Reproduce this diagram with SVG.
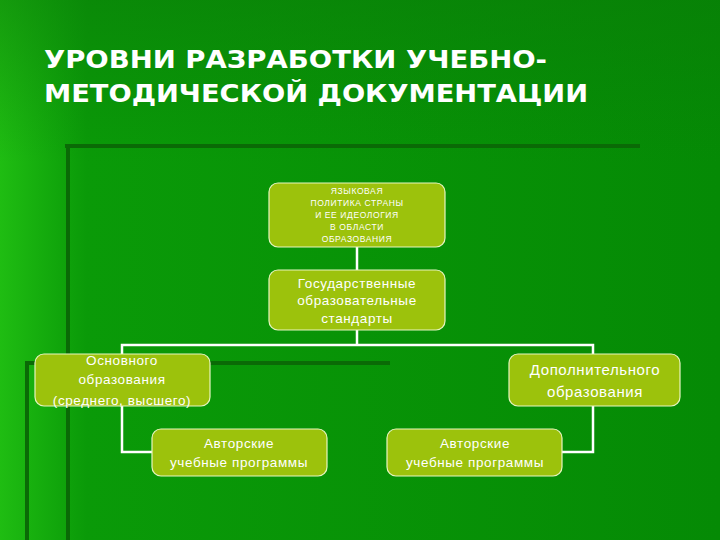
<svg xmlns="http://www.w3.org/2000/svg" width="720" height="540" viewBox="0 0 720 540">
<defs>
<linearGradient id="bg" x1="0" y1="0" x2="1" y2="0">
<stop offset="0" stop-color="#1fbd12"/><stop offset="0.12" stop-color="#0a9a08"/><stop offset="1" stop-color="#058a05"/>
</linearGradient>
<linearGradient id="bgv" x1="0" y1="0" x2="0" y2="1">
<stop offset="0" stop-color="#0a7a08" stop-opacity="0.5"/><stop offset="0.3" stop-color="#0a7a08" stop-opacity="0"/>
</linearGradient>
</defs>
<style>
.n{fill:#9cc20c;stroke:#e8f5c0;stroke-width:1.2}
.t{font-family:"Liberation Sans",Arial,sans-serif;fill:#fff;text-anchor:middle;letter-spacing:0.6px}
.c{fill:none;stroke:#fff;stroke-width:2.5}
.d{stroke:#0a6a06;stroke-width:4}
.h{font-family:"DejaVu Sans","Liberation Sans",sans-serif;font-weight:bold;font-size:25px;fill:#fff}
</style>
<rect width="720" height="540" fill="url(#bg)"/>
<rect width="720" height="540" fill="url(#bgv)"/>
<line class="d" x1="65" y1="146" x2="640" y2="146"/>
<line class="d" x1="68" y1="146" x2="68" y2="540"/>
<line class="d" x1="25" y1="363" x2="390" y2="363"/>
<line class="d" x1="27" y1="363" x2="27" y2="540"/>
<text class="h" x="44" y="68" textLength="503" lengthAdjust="spacingAndGlyphs">УРОВНИ РАЗРАБОТКИ УЧЕБНО-</text>
<text class="h" x="44" y="102" textLength="544" lengthAdjust="spacingAndGlyphs">МЕТОДИЧЕСКОЙ ДОКУМЕНТАЦИИ</text>
<g id="connectors">
<path class="c" d="M357 247V270M357 330V345M122 354V345H593V354M122 406V452H152M593 406V452H562"/>
</g>
<g id="n1"><rect class="n" x="269" y="183" width="176" height="64" rx="9"/>
<text class="t" font-size="8.5"><tspan x="357" y="194">ЯЗЫКОВАЯ</tspan><tspan x="357" y="206">ПОЛИТИКА СТРАНЫ</tspan><tspan x="357" y="218">И ЕЕ ИДЕОЛОГИЯ</tspan><tspan x="357" y="230">В ОБЛАСТИ</tspan><tspan x="357" y="242">ОБРАЗОВАНИЯ</tspan></text></g>
<g id="n2"><rect class="n" x="269" y="270" width="176" height="60" rx="9"/>
<text class="t" font-size="13.5"><tspan x="357" y="288">Государственные</tspan><tspan x="357" y="305">образовательные</tspan><tspan x="357" y="323">стандарты</tspan></text></g>
<g id="n3"><rect class="n" x="35" y="354" width="175" height="52" rx="9"/>
<text class="t" font-size="13.5"><tspan x="122" y="365">Основного</tspan><tspan x="122" y="384">образования</tspan><tspan x="122" y="405">(среднего, высшего)</tspan></text></g>
<g id="n4"><rect class="n" x="509" y="354" width="171" height="52" rx="9"/>
<text class="t" font-size="15"><tspan x="595" y="375">Дополнительного</tspan><tspan x="595" y="397">образования</tspan></text></g>
<g id="n5"><rect class="n" x="152" y="429" width="175" height="47" rx="9"/>
<text class="t" font-size="13.5"><tspan x="239" y="448">Авторские</tspan><tspan x="239" y="467">учебные программы</tspan></text></g>
<g id="n6"><rect class="n" x="387" y="429" width="175" height="47" rx="9"/>
<text class="t" font-size="13.5"><tspan x="475" y="448">Авторские</tspan><tspan x="475" y="467">учебные программы</tspan></text></g>
</svg>
